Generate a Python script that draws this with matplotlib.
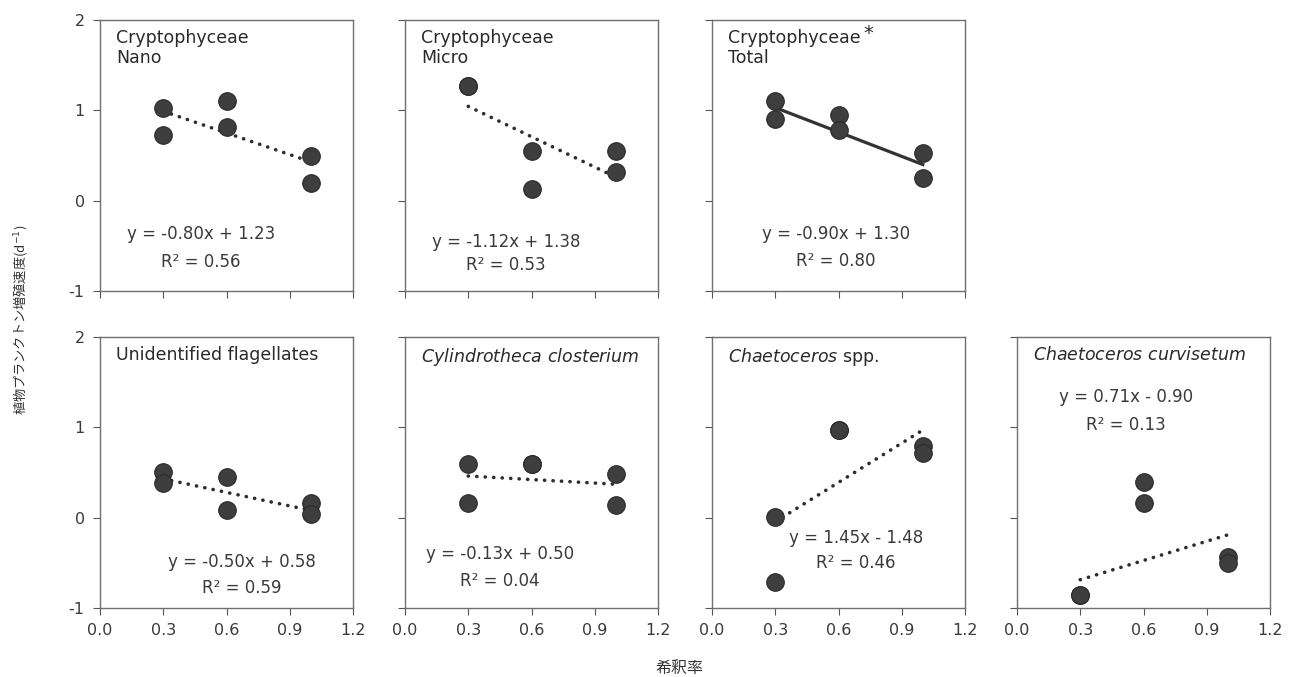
import matplotlib
matplotlib.use("Agg")
import matplotlib.pyplot as plt

plt.rcParams['font.family'] = ['DejaVu Sans', 'Noto Sans CJK JP']
plt.rcParams['axes.unicode_minus'] = False

# Dilution rate levels and growth rates for each group
dilution = [0.3, 0.3, 0.6, 0.6, 1.0, 1.0]

nano_rate = [1.03, 0.73, 1.10, 0.81, 0.50, 0.20]
micro_rate = [1.27, 1.27, 0.55, 0.13, 0.55, 0.32]
total_rate = [1.10, 0.90, 0.95, 0.78, 0.53, 0.25]
flag_rate = [0.50, 0.38, 0.45, 0.08, 0.16, 0.04]
cylin_rate = [0.59, 0.16, 0.59, 0.59, 0.48, 0.14]
chaet_rate = [0.01, -0.71, 0.97, 0.97, 0.79, 0.72]
curvi_rate = [-0.86, -0.86, 0.40, 0.16, -0.43, -0.50]

# Trend line coefficients (Chaetoceros spp. line sits at -0.48 on the plot)
slopes = [-0.80, -1.12, -0.90, -0.50, -0.13, 1.45, 0.71]
intercepts = [1.23, 1.38, 1.30, 0.58, 0.50, -0.48, -0.90]

# Equation and R2 labels as printed on each panel
eq_labels = ["y = -0.80x + 1.23", "y = -1.12x + 1.38", "y = -0.90x + 1.30",
             "y = -0.50x + 0.58", "y = -0.13x + 0.50", "y = 1.45x - 1.48",
             "y = 0.71x - 0.90"]
r2 = [0.56, 0.53, 0.80, 0.59, 0.04, 0.46, 0.13]

titles = ["Cryptophyceae\nNano", "Cryptophyceae\nMicro", "Cryptophyceae\nTotal",
          "Unidentified flagellates", r"$\it{Cylindrotheca\ closterium}$",
          r"$\it{Chaetoceros}$ spp.", r"$\it{Chaetoceros\ curvisetum}$"]
rates = [nano_rate, micro_rate, total_rate, flag_rate, cylin_rate, chaet_rate, curvi_rate]

# panel positions (left px, row) and equation text placement (axes fraction)
lefts = [100, 405, 712, 100, 405, 712, 1017]
rows = [0, 0, 0, 1, 1, 1, 1]
eq_pos = [(0.40, 0.21, 0.107), (0.40, 0.18, 0.096), (0.49, 0.21, 0.11),
          (0.56, 0.17, 0.074), (0.375, 0.20, 0.10), (0.57, 0.26, 0.166),
          (0.43, 0.78, 0.675)]

W, H = 1294, 677
fig = plt.figure(figsize=(W / 100, H / 100), dpi=100)

for i in range(7):
    bottom_px = 291 if rows[i] == 0 else 608
    ax = fig.add_axes([lefts[i] / W, 1 - bottom_px / H, 253 / W, 271 / H])
    ax.scatter(dilution, rates[i], s=160, color="#3e3e3e", edgecolor="#2a2a2a",
               linewidth=0.8, zorder=3)
    xs = [0.3, 1.0]
    ys = [slopes[i] * x + intercepts[i] for x in xs]
    if i == 2:
        ax.plot(xs, ys, color="#333333", linewidth=2.3, zorder=2)
    else:
        ax.plot(xs, ys, color="#2e2e2e", linewidth=2.6, linestyle=(0, (0.05, 2.3)),
                dash_capstyle="round", zorder=2)
    ax.set_xlim(0, 1.2)
    ax.set_ylim(-1, 2)
    ax.set_xticks([0, 0.3, 0.6, 0.9, 1.2])
    ax.set_yticks([-1, 0, 1, 2])
    ax.tick_params(direction="out", length=5, width=0.8, color="#555555",
                   labelsize=11.5, labelcolor="#3a3a3a", pad=6)
    if rows[i] == 0:
        ax.set_xticklabels([])
    else:
        ax.set_xticklabels(["0.0", "0.3", "0.6", "0.9", "1.2"])
    if i not in (0, 3):
        ax.set_yticklabels([])
    for sp in ax.spines.values():
        sp.set_color("#707070")
        sp.set_linewidth(1.0)

    ax.text(0.065, 0.965, titles[i], transform=ax.transAxes, ha="left", va="top",
            fontsize=12.5, color="#2a2a2a", linespacing=1.1)
    if i == 2:
        ax.text(0.6, 0.985, "*", transform=ax.transAxes, ha="left", va="top",
                fontsize=14, color="#2a2a2a")

    ex, ey, ry = eq_pos[i]
    ax.text(ex, ey, eq_labels[i], transform=ax.transAxes, ha="center", va="center",
            fontsize=12, color="#3a3a3a")
    ax.text(ex, ry, f"R² = {r2[i]:.2f}", transform=ax.transAxes, ha="center",
            va="center", fontsize=12, color="#3a3a3a")

fig.text(20 / W, 1 - 320 / H, "植物プランクトン増殖速度(d$^{-1}$)", rotation=90,
         ha="center", va="center", fontsize=9.5, color="#333333",
         family=["Noto Sans CJK JP", "DejaVu Sans"])
fig.text(679 / W, 1 - 668 / H, "希釈率", ha="center", va="center", fontsize=11.5,
         color="#333333", family=["Noto Sans CJK JP", "DejaVu Sans"])

fig.savefig("out.png", dpi=100)
